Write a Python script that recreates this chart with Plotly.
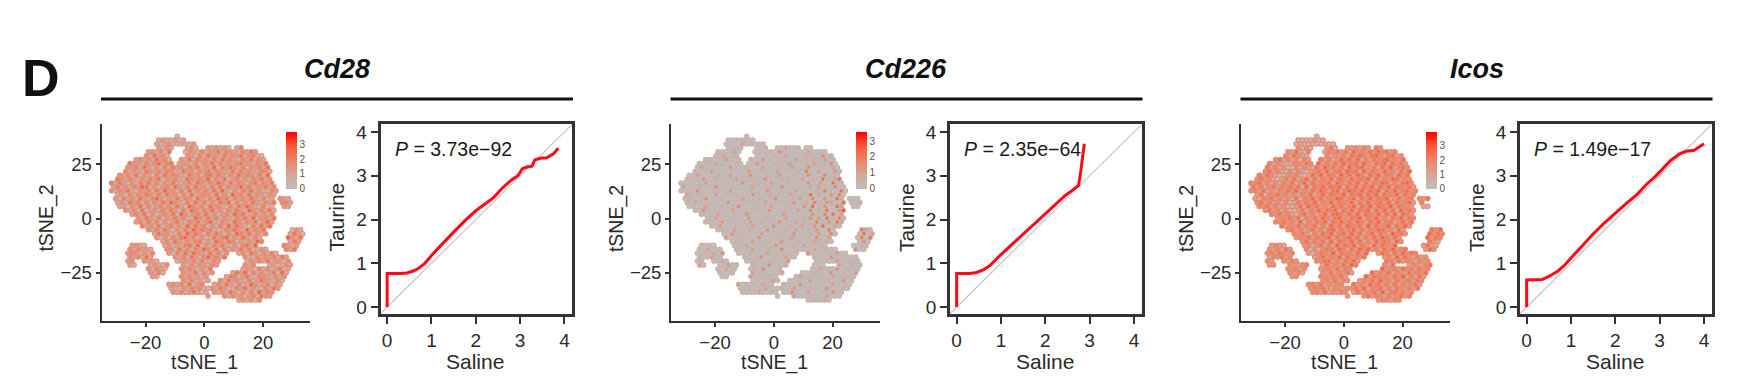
import plotly.graph_objects as go

W, H = 1748, 388

genes = ["Cd28", "Cd226", "Icos"]
p_labels = ["3.73e\u221292", "2.35e\u221264", "1.49e\u221217"]

# Cell footprint: occupied column spans per row.
# Columns start at tSNE_1 = -33 (step 1.4); rows start at tSNE_2 = 38 (step -1.8).
cell_x0, cell_dx, cell_y0, cell_dy = -33.0, 1.4, 38.0, -1.8
cell_spans = [
    [(17, 17)], [(12, 18)], [(12, 21)], [(12, 15), (19, 21), (24, 29), (31, 32)],
    [(10, 15), (19, 36)], [(9, 14), (19, 37)], [(7, 15), (18, 38)], [(5, 15), (17, 38)],
    [(5, 15), (16, 39)], [(4, 39)], [(3, 39)], [(2, 39)], [(1, 40)], [(1, 40)], [(1, 41)],
    [(2, 40)], [(2, 40), (42, 44)], [(2, 40), (42, 44)], [(3, 40), (43, 44)], [(4, 40)],
    [(6, 40)], [(7, 40)], [(7, 40)], [(8, 39)], [(10, 38), (45, 47)], [(11, 38), (44, 47)],
    [(12, 37), (44, 47)], [(13, 37), (44, 46)], [(6, 9), (14, 36), (43, 46)],
    [(5, 10), (14, 38), (43, 45)], [(5, 11), (15, 29), (32, 41)], [(5, 10), (16, 28), (33, 43)],
    [(5, 6), (9, 12), (17, 27), (34, 44)], [(5, 6), (10, 14), (18, 26), (33, 35), (39, 44)],
    [(10, 14), (18, 25), (33, 44)], [(10, 13), (18, 25), (30, 43)], [(11, 12), (18, 24), (29, 43)],
    [(18, 24), (27, 42)], [(15, 23), (26, 42)], [(15, 24), (25, 41)], [(16, 24), (26, 40)],
    [(24, 24), (28, 39)], [(32, 37)],
]

# Overall level of each panel's cell cloud, and per-cell speckle levels in
# steps of 0.4 (digit 5 = 2.0), estimated by eye.
base_level = [1.5, 0.4, 1.85]
level_step = 0.4
cd28_levels = [
"0",
"0310302",
"2034012304",
"304125032413015",
"342516043251436254315364",
"4263514305263415243614520",
"352416350426153425163421536142",
"634152473562431504362514256341536",
"43526304152634253614270536425143526",
"524316435254026341536254316253421541",
"4352614305263542163405625314263541527",
"64253142536043521642537142603524153624",
"5263041536251436203516425374162530461536",
"3624153762403516425163405261534725143625",
"41536204351627340516243516273041536241053",
"230515364251634052613542614073516243042",
"3052416325740316254163052746153426315024320",
"2416350415263742051635142637051426315364521",
"1304261503524163074251634205163742150132",
"4251603415263051742536140526317425361",
"3526140352607413526140352746135241536",
"4263150426351074263514205362714526340",
"3516250413620536147205316425360472153",
"5241603524172635041527364105263741526",
"4152630415273645102536417253604152637561",
"2634105273641526304175362415263045210413",
"3041526735140263571426305174263031204",
"2506314256031742650314275163204021",
"3420240315627041536214056275313210320",
"4253314506241537426051436250142536730401",
"3541425305162743162504251631425036142535",
"4351624251630473526410524351620351435",
"34423103425162053143526143041534234",
"3124204315243153425130142634505",
"41531425304162430524136025314",
"3251423605142637052413607251",
"324251304264036215420514352",
"4251302516342051364215034",
"342516035142630512741350426",
"3104253510426301536241052635",
"425136203425163041527354",
"3415240351643",
"231405",
]
cd226_levels = [
"0",
"0010100",
"0000300010",
"001000100300100",
"100030010000400100030010",
"0030010000100300001000400",
"010003000100400010003000100300",
"001030000100040001000300010300040",
"03000100400010003000100300040010030",
"100030000100040010003000010500300040",
"0030000100300004000100300010040005010",
"10004001000030001004000100003001060036",
"0010003000100004000100300010000400300601",
"3000100040001000030010004000100303000500",
"00104000100030000100040001003000010500060",
"300100030000100040001000030010603004050",
"0100040001000030001000400010300500400630001",
"0030010000400010000300100040010500430060010",
"0100300010004000010030001000406004006300",
"0040001003000010004000100300501060047",
"1000300010040000100030010004005060340",
"0030001000400010000300100403060050634",
"1000400100030000104000301005004063045",
"0030001000300104000100300406003005640",
"0100300010004000100300104005063004000010",
"0040010003000100040001030050060340000100",
"3000100040001000300010400305060000010",
"0100030001004000100030010040005300",
"00100003000100400010030001000100001000",
"1030001000300010040001000300100400000100",
"0010304000100030001000400010030001040100",
"1003001000400010300100040010003001000",
"0100300010001000400100300010300100",
"3000300100040001000300100400",
"0030100040001003000400100300",
"1000300100030001000400100300",
"003000100030001000300100400",
"0100030001003000100040010",
"301000300100040001000300100",
"0010003000100300010004000100",
"100030010004000300100400",
"0300010003000",
"010030",
]
icos_levels = [
"0",
"0010300",
"0300100300",
"504136043525364",
"426105254636274536475645",
"5364205143526475367425634",
"463514052635147463725364574536",
"524301553647252637456374265736463",
"63524005143263746352746734526473564",
"463521415203464735637562746537452637",
"5364201435102647365274637526473652746",
"46351025361472635472653746572635476354",
"5463524153604726354627536472635476253674",
"6352463546360726473657264736572647365463",
"45362415364725364752673576473657264735645",
"360546352415362473654726573647265473645",
"3054635241605473625476357264736572463564362",
"4635241502636472547365472637456372645735",
"5463524103627463527463572647365472654311",
"4635241036254736572647365726473627463",
"5463520463524736754637265473647265374",
"3546360546375267436572647352647365274",
"5463527053647265746375264735624736574",
"6354635463527463754627364572647365274",
"4635246352673645726354764527364756302",
"5463053647256374625736427563746527531204",
"3546364572635746253647526374651302",
"4635463726547362537465274631021",
"3530350463527465736427365473631032",
"4352635040465375263747352647356374625310",
"4536435304653726453647365263746534635",
"3546352463547263546352736425346",
"4343535467352647365363542534",
"34432452635463754263542564",
"4352434536254734536453645",
"4352436354627354635426354635",
"3454354627365453647252634",
"45362543546374526345364",
"453624354635274635263534635",
"354632543546372546352643526",
"453624354263546372564534",
"3463542534635",
"354254",
]
expression_levels = [cd28_levels, cd226_levels, icos_levels]
colorbar_max = [3.9, 3.6, 4.0]

# Quantile-quantile curves
qq_saline = [
    [0, 0, 0.3, 0.45, 0.6, 0.7, 0.85, 1.0, 1.25, 1.5, 1.75, 2.0, 2.2, 2.4, 2.6, 2.8, 2.95, 3.05, 3.15, 3.27, 3.33, 3.45, 3.6, 3.75, 3.86],
    [0, 0, 0.3, 0.45, 0.6, 0.75, 1.0, 1.25, 1.5, 1.75, 2.0, 2.25, 2.45, 2.6, 2.75, 2.8, 2.88],
    [0, 0, 0.35, 0.5, 0.7, 0.85, 1.0, 1.25, 1.5, 1.75, 2.0, 2.25, 2.5, 2.7, 2.9, 3.1, 3.25, 3.45, 3.6, 3.78, 4.0],
]
qq_taurine = [
    [0, 0.77, 0.77, 0.78, 0.83, 0.88, 1.0, 1.18, 1.45, 1.72, 1.97, 2.2, 2.35, 2.5, 2.72, 2.9, 3.0, 3.16, 3.2, 3.22, 3.36, 3.4, 3.41, 3.5, 3.63],
    [0, 0.77, 0.77, 0.79, 0.85, 0.95, 1.2, 1.43, 1.68, 1.9, 2.12, 2.35, 2.55, 2.66, 2.78, 3.1, 3.73],
    [0, 0.62, 0.63, 0.7, 0.82, 0.95, 1.12, 1.4, 1.67, 1.92, 2.15, 2.37, 2.58, 2.8, 2.98, 3.2, 3.35, 3.5, 3.56, 3.58, 3.73],
]
diagonal = [-0.16, 4.18]

tsne_x_ticks = [-20, 0, 20]
tsne_y_ticks = [-25, 0, 25]
qq_ticks = [0, 1, 2, 3, 4]

FONT = "Liberation Sans, Arial, sans-serif"
DARK = "#333333"
TXT = "#2a2a2a"
colorscale = [[0, "#BEBEBE"], [0.25, "#D6A698"], [0.5, "#EC8468"], [0.75, "#F85A38"], [1, "#FF0000"]]

# pixel layout
PANEL_OFFSET = [0, 569.5, 1139.5]
TS_L, TS_R, TS_T, TS_B = 101.5, 310, 124, 324
QQ_L, QQ_R, QQ_T, QQ_B = 380.5, 572, 124, 317
CB_L, CB_W, CB_T, CB_B = 286, 11, 133, 189.5


def px(v):
    return v / W


def py(v):
    return 1 - v / H


fig = go.Figure()
annotations = []
shapes = []

for k, gene in enumerate(genes):
    off = PANEL_OFFSET[k]
    a = 2 * k + 1
    b = 2 * k + 2
    ax_x, ax_y = ("x", "y") if a == 1 else (f"x{a}", f"y{a}")
    bx_x, bx_y = f"x{b}", f"y{b}"

    xs, ys, zs = [], [], []
    for j, spans in enumerate(cell_spans):
        columns = [c for lo, hi in spans for c in range(lo, hi + 1)]
        for c, ch in zip(columns, expression_levels[k][j]):
            xs.append(cell_x0 + cell_dx * (c + 0.5 * (j % 2)))
            ys.append(cell_y0 + cell_dy * j)
            zs.append(int(ch) * level_step)

    # soft under-layer in the panel's overall colour, speckle on top
    fig.add_trace(go.Scatter(
        x=xs, y=ys, mode="markers", xaxis=ax_x, yaxis=ax_y, showlegend=False, hoverinfo="skip",
        marker=dict(size=5.6, symbol="circle", color=[base_level[k]] * len(xs), colorscale=colorscale,
                    cmin=0, cmax=colorbar_max[k], line=dict(width=0)),
    ))
    fig.add_trace(go.Scatter(
        x=xs, y=ys, mode="markers", xaxis=ax_x, yaxis=ax_y, showlegend=False, hoverinfo="skip",
        marker=dict(
            size=3.2, symbol="circle", color=zs, colorscale=colorscale,
            cmin=0, cmax=colorbar_max[k], line=dict(width=0),
            colorbar=dict(
                x=px(CB_L + off), xanchor="left", xref="paper",
                y=py(CB_B), yanchor="bottom", yref="paper",
                len=CB_B - CB_T, lenmode="pixels",
                thickness=CB_W, thicknessmode="pixels",
                outlinewidth=0, borderwidth=0, xpad=0, ypad=0,
                tickmode="array", tickvals=[0, 1, 2, 3], ticktext=["0", "1", "2", "3"],
                ticks="", tickfont=dict(family=FONT, size=10, color="#555555"),
            ),
        ),
    ))
    fig.add_trace(go.Scatter(
        x=diagonal, y=diagonal, mode="lines", xaxis=bx_x, yaxis=bx_y, showlegend=False,
        line=dict(color="#C4C4C4", width=1.2), hoverinfo="skip",
    ))
    fig.add_trace(go.Scatter(
        x=qq_saline[k], y=qq_taurine[k], mode="lines", xaxis=bx_x, yaxis=bx_y, showlegend=False,
        line=dict(color="#FF0A14", width=3), hoverinfo="skip",
    ))

    ts_axis = dict(
        showgrid=False, zeroline=False, showline=True, linecolor=DARK, linewidth=2,
        ticks="outside", ticklen=4, tickwidth=1.5, tickcolor=DARK,
        tickfont=dict(family=FONT, size=18.5, color=TXT),
    )
    xname = "xaxis" if a == 1 else f"xaxis{a}"
    yname = "yaxis" if a == 1 else f"yaxis{a}"
    fig.update_layout({
        xname: dict(ts_axis, domain=[px(TS_L + off), px(TS_R + off)], range=[-35, 36],
                    tickvals=tsne_x_ticks, anchor=ax_y),
        yname: dict(ts_axis, domain=[py(TS_B), py(TS_T)], range=[-47.3, 43.6],
                    tickvals=tsne_y_ticks, anchor=ax_x),
    })
    qq_axis = dict(
        showgrid=False, zeroline=False, showline=True, mirror=True, linecolor=DARK, linewidth=2.5,
        ticks="outside", ticklen=7, tickwidth=1.5, tickcolor=DARK,
        tickvals=qq_ticks, tickfont=dict(family=FONT, size=19, color=TXT),
    )
    fig.update_layout({
        f"xaxis{b}": dict(qq_axis, domain=[px(QQ_L + off), px(QQ_R + off)], range=[-0.15, 4.17], anchor=bx_y),
        f"yaxis{b}": dict(qq_axis, domain=[py(QQ_B), py(QQ_T)], range=[-0.16, 4.18], anchor=bx_x),
    })

    def txt(x, y, s, size, angle=0, color=TXT):
        annotations.append(dict(x=px(x), y=py(y), xref="paper", yref="paper", text=s, showarrow=False,
                                textangle=angle, xanchor="center", yanchor="middle",
                                font=dict(family=FONT, size=size, color=color)))

    txt(204.5 + off, 366, "tSNE_1", 19.5)
    txt(47 + off, 220, "tSNE_2", 19.5, angle=-90)
    txt(475 + off, 365, "Saline", 21)
    txt(337 + off, 219, "Taurine", 21, angle=-90)
    txt(453 + off, 149, f"<i>P</i> = {p_labels[k]}", 19.5, color="#1a1a1a")
    txt(337 + off, 68.5, f"<b><i>{gene}</i></b>", 27, color="#111111")
    shapes.append(dict(type="line", xref="paper", yref="paper", x0=px(101 + off), x1=px(573 + off),
                       y0=py(98.5), y1=py(98.5), line=dict(color="#111111", width=3)))

annotations.append(dict(x=px(41), y=py(77), xref="paper", yref="paper", text="<b>D</b>", showarrow=False,
                        xanchor="center", yanchor="middle", font=dict(family=FONT, size=52, color="#111111")))

fig.update_layout(
    width=W, height=H, margin=dict(l=0, r=0, t=0, b=0), autosize=False,
    paper_bgcolor="white", plot_bgcolor="white", showlegend=False,
    annotations=annotations, shapes=shapes,
)
fig.write_html("out.html", config={"displayModeBar": False},
               post_script="document.body.style.margin='0';document.documentElement.style.overflow='hidden';")
